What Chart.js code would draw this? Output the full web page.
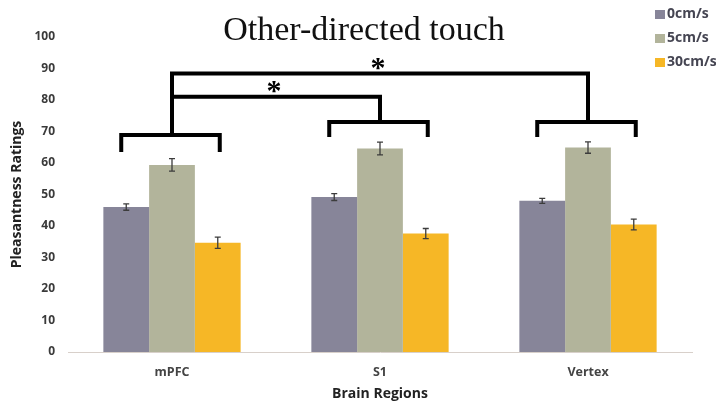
<!DOCTYPE html>
<html>
<head>
<meta charset="utf-8">
<script src="https://cdn.jsdelivr.net/npm/chart.js@4.4.0/dist/chart.umd.min.js"></script>
<style>
    html, body { margin: 0; padding: 0; background: #ffffff; }
    #wrap { width: 716px; height: 405px; position: relative; }
</style>
</head>
<body>
<div id="wrap"><canvas id="chart-pleasantness"></canvas></div>
<script>
// Data
const regions = ['mPFC', 'S1', 'Vertex'];
const speeds = ['0cm/s', '5cm/s', '30cm/s'];
const rating0 = [46.0, 49.2, 48.0];
const rating5 = [59.4, 64.6, 64.9];
const rating30 = [34.7, 37.6, 40.5];
const err0 = [1.0, 1.1, 0.8];
const err5 = [2.0, 2.0, 1.8];
const err30 = [1.8, 1.6, 1.7];
const yTicks = [0, 10, 20, 30, 40, 50, 60, 70, 80, 90, 100];

// Significance brackets (in rating units)
const groupBracketTop = [68.9, 73.0, 73.0];
const groupBracketLeg = [64.1, 68.9, 68.9];
const linkFrom = [0, 0];
const linkTo = [1, 2];
const linkLevel = [81.0, 88.4];
const linkLabel = ['*', '*'];

const colors = {
    slow: '#878599',
    mid: '#b2b49b',
    fast: '#f6b726',
    tick: '#3a3a3a',
    axis: '#d8d0ca'
};

const errorBarPlugin = {
    id: 'errorBars',
    afterDatasetsDraw(chart) {
        const ctx = chart.ctx;
        const y = chart.scales.y;
        const errs = [err0, err5, err30];
        ctx.save();
        ctx.strokeStyle = '#3c3c3c';
        ctx.lineWidth = 1.3;
        chart.data.datasets.forEach((ds, di) => {
            const meta = chart.getDatasetMeta(di);
            meta.data.forEach((bar, i) => {
                const v = ds.data[i];
                const top = y.getPixelForValue(v + errs[di][i]);
                const bot = y.getPixelForValue(v - errs[di][i]);
                ctx.beginPath();
                ctx.moveTo(bar.x, top); ctx.lineTo(bar.x, bot);
                ctx.moveTo(bar.x - 3, top); ctx.lineTo(bar.x + 3, top);
                ctx.moveTo(bar.x - 3, bot); ctx.lineTo(bar.x + 3, bot);
                ctx.stroke();
            });
        });
        ctx.restore();
    }
};

const bracketPlugin = {
    id: 'brackets',
    afterDatasetsDraw(chart) {
        const ctx = chart.ctx;
        const x = chart.scales.x;
        const y = chart.scales.y;
        const first = chart.getDatasetMeta(0).data;
        const last = chart.getDatasetMeta(2).data;
        ctx.save();
        ctx.strokeStyle = '#000000';
        ctx.lineWidth = 4;
        ctx.lineJoin = 'miter';
        ctx.lineCap = 'square';
        // bracket over each group
        regions.forEach((r, i) => {
            const x0 = first[i].x - 5;
            const x1 = last[i].x + 2;
            const yt = y.getPixelForValue(groupBracketTop[i]);
            const yl = y.getPixelForValue(groupBracketLeg[i]);
            ctx.beginPath();
            ctx.moveTo(x0, yl); ctx.lineTo(x0, yt); ctx.lineTo(x1, yt); ctx.lineTo(x1, yl);
            ctx.stroke();
        });
        // links between groups
        linkFrom.forEach((a, k) => {
            const b = linkTo[k];
            const xa = x.getPixelForValue(a);
            const xb = x.getPixelForValue(b);
            const yh = y.getPixelForValue(linkLevel[k]);
            ctx.beginPath();
            ctx.moveTo(xa, y.getPixelForValue(groupBracketTop[a]));
            ctx.lineTo(xa, yh);
            ctx.lineTo(xb, yh);
            ctx.lineTo(xb, y.getPixelForValue(groupBracketTop[b]));
            ctx.stroke();
            ctx.fillStyle = '#000000';
            ctx.font = 'bold 30px "Liberation Serif", serif';
            ctx.textAlign = 'center';
            ctx.textBaseline = 'alphabetic';
            ctx.fillText(linkLabel[k], (xa + xb) / 2 - 2, yh + 3);
        });
        ctx.restore();
    }
};

const headerPlugin = {
    id: 'header',
    afterDraw(chart) {
        const ctx = chart.ctx;
        ctx.save();
        ctx.fillStyle = '#111111';
        ctx.font = '34px "Liberation Serif", serif';
        ctx.textAlign = 'center';
        ctx.textBaseline = 'alphabetic';
        ctx.fillText('Other-directed touch', 364, 40);

        const sw = [colors.slow, colors.mid, colors.fast];
        ctx.font = 'bold 14px "Open Sans", sans-serif';
        ctx.textAlign = 'left';
        ctx.textBaseline = 'middle';
        speeds.forEach((s, i) => {
            const cy = 14 + i * 24;
            ctx.fillStyle = sw[i];
            ctx.fillRect(655, cy - 4, 10, 9);
            ctx.fillStyle = '#454552';
            ctx.fillText(s, 667, cy);
        });
        ctx.restore();
    }
};

new Chart(document.getElementById('chart-pleasantness'), {
    type: 'bar',
    data: {
        labels: regions,
        datasets: [
            { label: speeds[0], data: rating0, backgroundColor: colors.slow },
            { label: speeds[1], data: rating5, backgroundColor: colors.mid },
            { label: speeds[2], data: rating30, backgroundColor: colors.fast }
        ]
    },
    options: {
        responsive: true,
        maintainAspectRatio: false,
        animation: false,
        layout: { padding: { top: 37, right: 24, left: 0, bottom: 0 } },
        datasets: { bar: { categoryPercentage: 0.66, barPercentage: 1.0 } },
        plugins: {
            legend: { display: false },
            title: { display: false },
            tooltip: { enabled: false }
        },
        scales: {
            x: {
                grid: { display: false, drawTicks: false },
                border: { display: true, color: colors.axis, width: 1 },
                ticks: {
                    color: '#444444',
                    padding: 13,
                    font: { family: "'Open Sans', sans-serif", size: 12.5, weight: 'bold' }
                },
                title: {
                    display: true,
                    text: 'Brain Regions',
                    color: '#222222',
                    padding: { top: 0, bottom: 3 },
                    font: { family: "'Open Sans', sans-serif", size: 14, weight: 'bold' }
                },
                afterFit(scale) { scale.height = 53; }
            },
            y: {
                min: 0,
                max: 100,
                afterBuildTicks(scale) { scale.ticks = yTicks.map(v => ({ value: v })); },
                grid: { display: false, drawTicks: false },
                border: { display: false },
                ticks: {
                    color: colors.tick,
                    padding: 13,
                    font: { family: "'Open Sans', sans-serif", size: 12, weight: 'bold' }
                },
                title: {
                    display: true,
                    text: 'Pleasantness Ratings',
                    color: '#222222',
                    padding: { top: 9, bottom: 0 },
                    font: { family: "'Open Sans', sans-serif", size: 14, weight: 'bold' }
                },
                afterFit(scale) { scale.width = 68; }
            }
        }
    },
    plugins: [errorBarPlugin, bracketPlugin, headerPlugin]
});
</script>
</body>
</html>
